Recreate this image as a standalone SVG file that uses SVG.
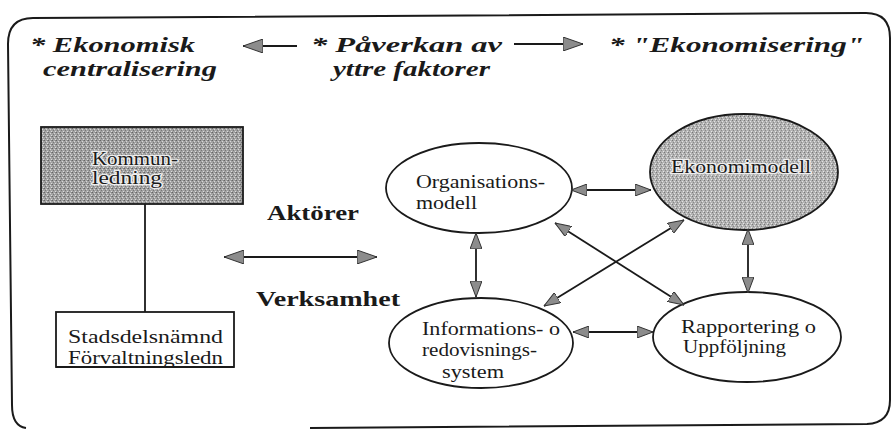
<svg xmlns="http://www.w3.org/2000/svg" width="892" height="430" viewBox="0 0 892 430">
  <defs>
    <style>
      .frame { fill: none; stroke: #1a1a1a; stroke-width: 2; }
      .head { font-family: "Liberation Serif", "DejaVu Serif", serif; font-weight: bold; font-style: italic; font-size: 21px; fill: #1a1a1a; }
      .bold { font-family: "Liberation Serif", "DejaVu Serif", serif; font-weight: bold; font-size: 22px; fill: #1a1a1a; }
      .lbl { font-family: "Liberation Serif", "DejaVu Serif", serif; font-size: 18px; fill: #1a1a1a; }
      .halo { paint-order: stroke; stroke: #eeeeee; stroke-width: 2.5px; stroke-linejoin: round; }
      .shape { stroke: #1a1a1a; stroke-width: 1.8; }
      .conn { fill: none; stroke: #1a1a1a; stroke-width: 1.8; }
    </style>
    <pattern id="stippleDark" width="4" height="4" patternUnits="userSpaceOnUse">
      <rect width="4" height="4" fill="#a2a2a2"/>
      <rect x="0" y="0" width="1" height="1" fill="#666"/>
      <rect x="2" y="1" width="1" height="1" fill="#d8d8d8"/>
      <rect x="1" y="2" width="1" height="1" fill="#777"/>
      <rect x="3" y="3" width="1" height="1" fill="#dcdcdc"/>
      <rect x="3" y="0" width="1" height="1" fill="#858585"/>
    </pattern>
    <pattern id="stippleLight" width="4" height="4" patternUnits="userSpaceOnUse">
      <rect width="4" height="4" fill="#b2b2b2"/>
      <rect x="0" y="0" width="1" height="1" fill="#777"/>
      <rect x="2" y="1" width="1" height="1" fill="#e2e2e2"/>
      <rect x="1" y="2" width="1" height="1" fill="#888"/>
      <rect x="3" y="3" width="1" height="1" fill="#e6e6e6"/>
    </pattern>
    <marker id="ah" viewBox="0 0 16 12" refX="16" refY="6" markerWidth="16" markerHeight="12" orient="auto-start-reverse" markerUnits="userSpaceOnUse">
      <path d="M0,0 L16,6 L0,12 Z" fill="#8c8c8c" stroke="#333" stroke-width="1"/>
    </marker>
    <marker id="ahL" viewBox="0 0 20 14" refX="20" refY="7" markerWidth="20" markerHeight="14" orient="auto-start-reverse" markerUnits="userSpaceOnUse">
      <path d="M0,0 L20,7 L0,14 Z" fill="#8c8c8c" stroke="#333" stroke-width="1"/>
    </marker>
  </defs>

  <rect width="892" height="430" fill="#ffffff"/>

  <!-- outer rounded frame (bottom edge open on the left) -->
  <path class="frame" d="M26,428 Q12,426 12,405 L8,44 Q8,18 33,18 L866,13 Q890,13 890,38 L890,400 Q890,423 867,424 L310,428"/>

  <!-- heading row -->
  <g id="heading">
    <text class="head" x="30" y="52" textLength="165" lengthAdjust="spacingAndGlyphs">* Ekonomisk</text>
    <text class="head" x="43" y="76" textLength="174" lengthAdjust="spacingAndGlyphs">centralisering</text>
    <text class="head" x="311" y="52" textLength="191" lengthAdjust="spacingAndGlyphs">* Påverkan av</text>
    <text class="head" x="333" y="76" textLength="157" lengthAdjust="spacingAndGlyphs">yttre faktorer</text>
    <text class="head" x="609" y="52" textLength="255" lengthAdjust="spacingAndGlyphs">* "Ekonomisering"</text>
  </g>

  <!-- actors side -->
  <g id="kommunledning">
    <rect class="shape" x="41" y="127" width="202" height="77" fill="url(#stippleDark)"/>
    <text class="lbl halo" x="92" y="165" textLength="86" lengthAdjust="spacingAndGlyphs">Kommun-</text>
    <text class="lbl halo" x="92" y="184" textLength="70" lengthAdjust="spacingAndGlyphs">ledning</text>
  </g>

  <g id="stadsdelsnamnd">
    <rect class="shape" x="56" y="312" width="178" height="55" fill="#ffffff"/>
    <text class="lbl" x="68" y="343" textLength="155" lengthAdjust="spacingAndGlyphs">Stadsdelsnämnd</text>
    <text class="lbl" x="68" y="364" textLength="155" lengthAdjust="spacingAndGlyphs">Förvaltningsledn</text>
    <line x1="56" y1="367" x2="234" y2="367" stroke="#1a1a1a" stroke-width="1.8"/>
  </g>

  <g id="labels">
    <text class="bold" x="267" y="220" textLength="92" lengthAdjust="spacingAndGlyphs">Aktörer</text>
    <text class="bold" x="256" y="306" textLength="144" lengthAdjust="spacingAndGlyphs">Verksamhet</text>
  </g>

  <!-- business side -->
  <g id="organisationsmodell">
    <ellipse class="shape" cx="479" cy="188" rx="93" ry="45" fill="#ffffff"/>
    <text class="lbl" x="416" y="188" textLength="129" lengthAdjust="spacingAndGlyphs">Organisations-</text>
    <text class="lbl" x="416" y="209" textLength="61" lengthAdjust="spacingAndGlyphs">modell</text>
  </g>

  <g id="ekonomimodell">
    <ellipse class="shape" cx="744" cy="172" rx="94" ry="58" fill="url(#stippleLight)"/>
    <text class="lbl halo" x="671" y="173" textLength="140" lengthAdjust="spacingAndGlyphs">Ekonomimodell</text>
  </g>

  <g id="informationssystem">
    <ellipse class="shape" cx="481" cy="343" rx="92" ry="45" fill="#ffffff"/>
    <text class="lbl" x="422" y="335" textLength="138" lengthAdjust="spacingAndGlyphs">Informations- o</text>
    <text class="lbl" x="422" y="356" textLength="115" lengthAdjust="spacingAndGlyphs">redovisnings-</text>
    <text class="lbl" x="442" y="378" textLength="62" lengthAdjust="spacingAndGlyphs">system</text>
  </g>

  <g id="rapportering">
    <ellipse class="shape" cx="747" cy="337" rx="94" ry="45" fill="#ffffff"/>
    <text class="lbl" x="681" y="333" textLength="135" lengthAdjust="spacingAndGlyphs">Rapportering o</text>
    <text class="lbl" x="683" y="353" textLength="103" lengthAdjust="spacingAndGlyphs">Uppföljning</text>
  </g>

  <g id="connectors">
    <line class="conn" x1="297" y1="46" x2="243" y2="46" marker-end="url(#ahL)"/>
    <line class="conn" x1="514" y1="44" x2="583" y2="44" marker-end="url(#ahL)"/>
    <line class="conn" x1="145" y1="204" x2="145" y2="312"/>
    <line class="conn" x1="224" y1="257" x2="377" y2="257" marker-start="url(#ahL)" marker-end="url(#ahL)"/>
    <line class="conn" x1="571" y1="190" x2="651" y2="190" marker-start="url(#ah)" marker-end="url(#ah)"/>
    <line class="conn" x1="476" y1="233" x2="476" y2="297" marker-start="url(#ah)" marker-end="url(#ah)"/>
    <line class="conn" x1="748" y1="229" x2="748" y2="293" marker-start="url(#ah)" marker-end="url(#ah)"/>
    <line class="conn" x1="573" y1="332" x2="653" y2="332" marker-start="url(#ah)" marker-end="url(#ah)"/>
    <line class="conn" x1="555" y1="223" x2="684" y2="305" marker-start="url(#ah)" marker-end="url(#ah)"/>
    <line class="conn" x1="684" y1="220" x2="544" y2="306" marker-start="url(#ah)" marker-end="url(#ah)"/>
  </g>
</svg>
